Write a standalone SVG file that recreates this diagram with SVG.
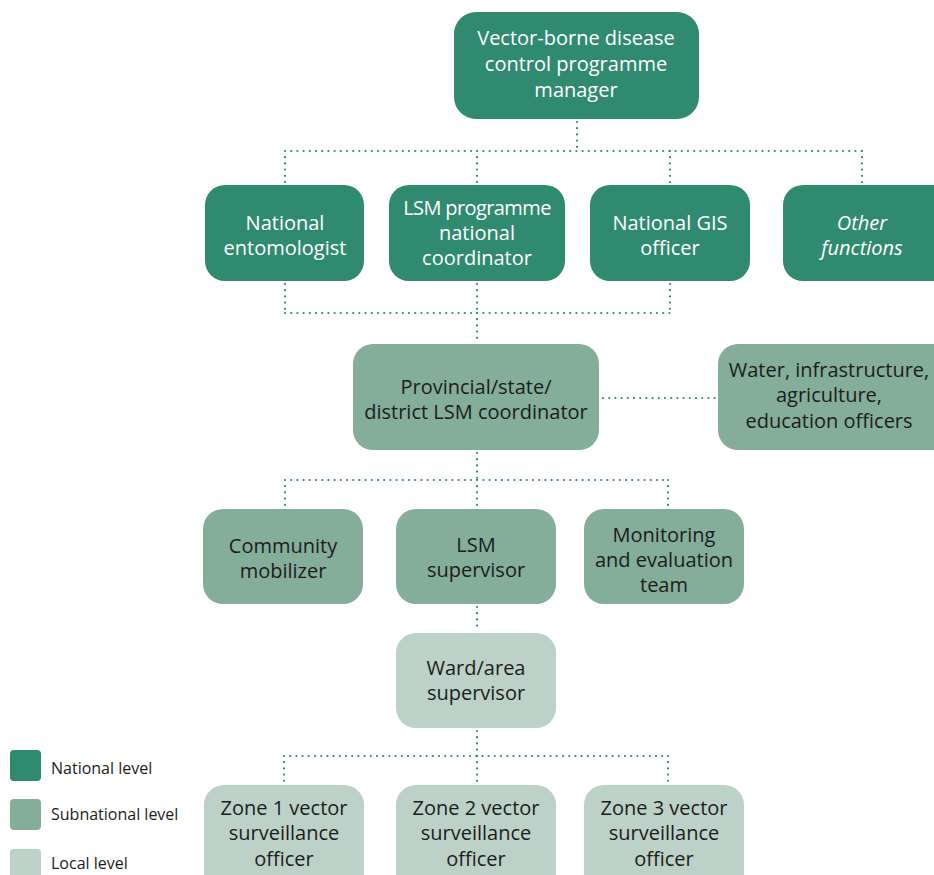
<svg xmlns="http://www.w3.org/2000/svg" width="934" height="875" viewBox="0 0 934 875">
<style>
.nat{fill:#308a6f}
.sub{fill:#84ad9a}
.loc{fill:#bcd1c7}
text{font-family:"Open Sans","Noto Sans","Liberation Sans",sans-serif;font-size:20px;text-anchor:middle}
.w{fill:#ffffff}
.k{fill:#1c1c1c}
.lg{font-size:16px;text-anchor:start;fill:#1c1c1c}
.c{fill:none;stroke:#308a6f;stroke-width:2.2;stroke-dasharray:0 6.2;stroke-linecap:round}
</style>
<rect width="934" height="875" fill="#ffffff"/>
<g id="connectors">
<path class="c" d="M577 122V151M285 151H862M285 151V182M477 151V182M670 151V182M862 151V182"/>
<path class="c" d="M285 284V313M477 284V313M670 284V313M285 313H670M477 313V341"/>
<path class="c" d="M603 398H716"/>
<path class="c" d="M477 453V480M285 480H668M285 480V506M477 480V506M668 480V506"/>
<path class="c" d="M477 607V631"/>
<path class="c" d="M477 731V756M284 756H668M284 756V782M477 756V782M668 756V782"/>
</g>
<g id="manager"><rect class="nat" x="454" y="12" width="245" height="107" rx="22"/>
<text class="w" x="576" y="45">Vector-borne disease</text><text class="w" x="576" y="71">control programme</text><text class="w" x="576" y="97">manager</text></g>
<g id="entomologist"><rect class="nat" x="205" y="185" width="159" height="96" rx="20"/>
<text class="w" x="285" y="230">National</text><text class="w" x="285" y="255">entomologist</text></g>
<g id="lsm-national"><rect class="nat" x="389" y="185" width="176" height="96" rx="20"/>
<text class="w" x="477" y="215" letter-spacing="-0.6">LSM programme</text><text class="w" x="477" y="240">national</text><text class="w" x="477" y="265">coordinator</text></g>
<g id="gis"><rect class="nat" x="590" y="185" width="160" height="96" rx="20"/>
<text class="w" x="670" y="230">National GIS</text><text class="w" x="670" y="255">officer</text></g>
<g id="other"><rect class="nat" x="783" y="185" width="170" height="96" rx="20"/>
<text class="w" x="862" y="230" font-style="italic">Other</text><text class="w" x="862" y="255" font-style="italic">functions</text></g>
<g id="provincial"><rect class="sub" x="353" y="344" width="246" height="106" rx="20"/>
<text class="k" x="476" y="394">Provincial/state/</text><text class="k" x="476" y="419">district LSM coordinator</text></g>
<g id="water"><rect class="sub" x="718" y="344" width="236" height="106" rx="20"/>
<text class="k" x="829" y="377">Water, infrastructure,</text><text class="k" x="829" y="402">agriculture,</text><text class="k" x="829" y="428">education officers</text></g>
<g id="community"><rect class="sub" x="203" y="509" width="160" height="95" rx="20"/>
<text class="k" x="283" y="553">Community</text><text class="k" x="283" y="578">mobilizer</text></g>
<g id="lsm-supervisor"><rect class="sub" x="396" y="509" width="160" height="95" rx="20"/>
<text class="k" x="476" y="552">LSM</text><text class="k" x="476" y="577">supervisor</text></g>
<g id="monitoring"><rect class="sub" x="584" y="509" width="160" height="95" rx="20"/>
<text class="k" x="664" y="542">Monitoring</text><text class="k" x="664" y="567">and evaluation</text><text class="k" x="664" y="592">team</text></g>
<g id="ward"><rect class="loc" x="396" y="633" width="160" height="95" rx="20"/>
<text class="k" x="476" y="675">Ward/area</text><text class="k" x="476" y="700">supervisor</text></g>
<g id="zone1"><rect class="loc" x="204" y="785" width="160" height="110" rx="20"/>
<text class="k" x="284" y="815">Zone 1 vector</text><text class="k" x="284" y="840">surveillance</text><text class="k" x="284" y="866">officer</text></g>
<g id="zone2"><rect class="loc" x="396" y="785" width="160" height="110" rx="20"/>
<text class="k" x="476" y="815">Zone 2 vector</text><text class="k" x="476" y="840">surveillance</text><text class="k" x="476" y="866">officer</text></g>
<g id="zone3"><rect class="loc" x="584" y="785" width="160" height="110" rx="20"/>
<text class="k" x="664" y="815">Zone 3 vector</text><text class="k" x="664" y="840">surveillance</text><text class="k" x="664" y="866">officer</text></g>
<g id="legend">
<rect class="nat" x="10" y="750" width="31" height="31" rx="4"/><text class="lg" x="51" y="774">National level</text>
<rect class="sub" x="10" y="799" width="31" height="31" rx="4"/><text class="lg" x="51" y="820">Subnational level</text>
<rect class="loc" x="10" y="849" width="31" height="31" rx="4"/><text class="lg" x="51" y="869">Local level</text>
</g>
</svg>
